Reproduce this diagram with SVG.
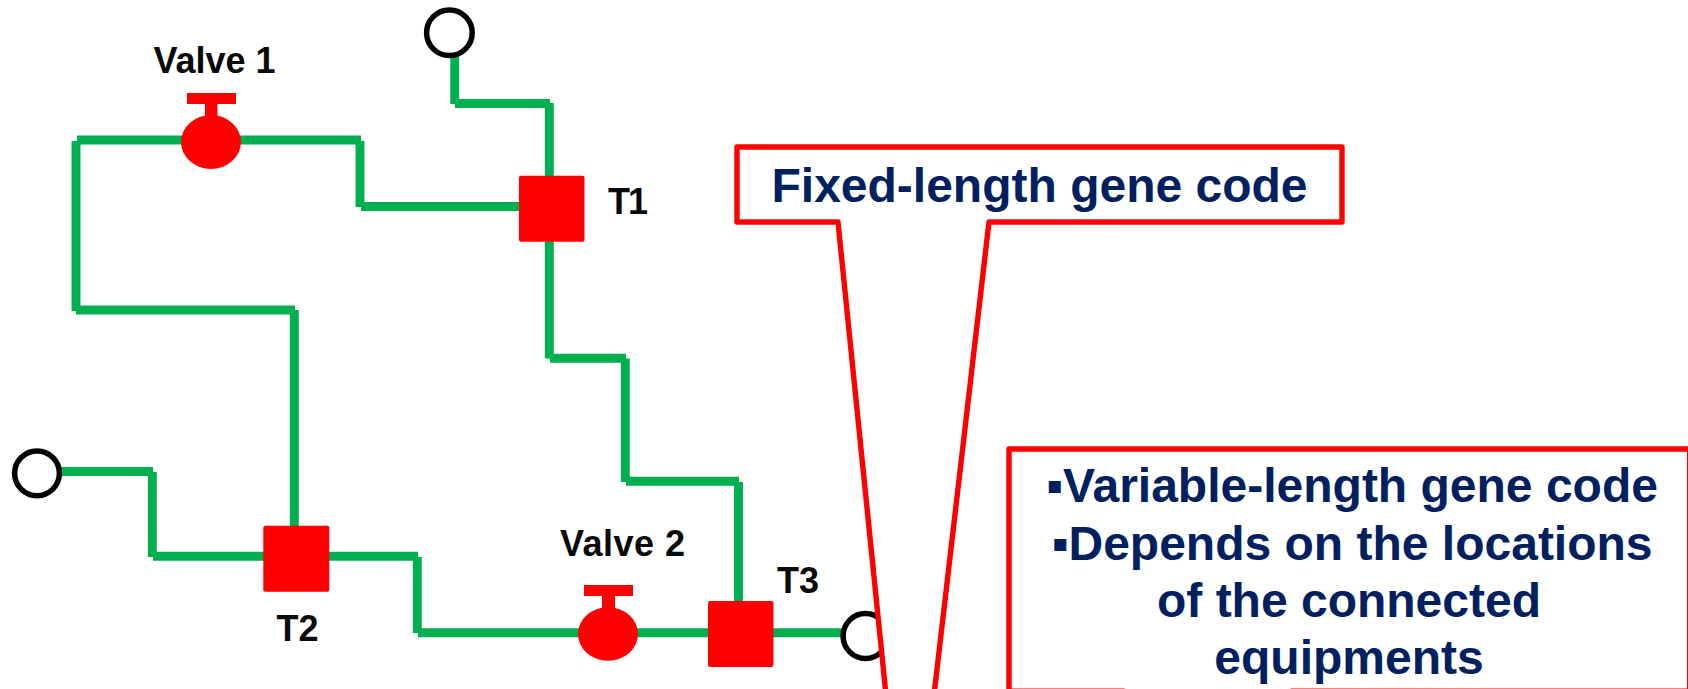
<svg xmlns="http://www.w3.org/2000/svg" width="1688" height="689" viewBox="0 0 1688 689">
<style>
.pipe{stroke:#00B050;stroke-width:8.9;fill:none}
.red{fill:#f00}
.port{fill:#fff;stroke:#000;stroke-width:5.5}
.lbl{font-family:"Liberation Sans",Arial,sans-serif;font-weight:700;font-size:36px;fill:#0a0a0a}
.call{fill:#fff;stroke:#f00;stroke-width:5.4;stroke-linejoin:round}
.ct{font-family:"Liberation Sans",Arial,"Noto Sans CJK JP",sans-serif;font-weight:700;font-size:48px;fill:#002060;text-anchor:middle}
</style>
<rect width="1688" height="689" fill="#fff"/>
<g id="connectors">
<path class="pipe" d="M76 141V311M77 140H361M360 141V207M361 206.5H520"/>
<path class="pipe" d="M76 310H295M294.3 310V527"/>
<path class="pipe" d="M454.7 55V104M455 103.5H550M549.3 103V177"/>
<path class="pipe" d="M549.3 241V358.5M550 358.3H626M625.3 358.5V482M626 481.3H739M738.5 482V602"/>
<path class="pipe" d="M60 471.5H153M152.3 472V557M153 556.3H264M329 556.3H418M417.3 557V633M418 632.7H845"/>
</g>
<g id="port-top"><circle class="port" cx="449.4" cy="32.7" r="22.8"/></g>
<g id="port-left"><circle class="port" cx="37" cy="473.3" r="22.4"/></g>
<g id="port-right"><circle class="port" cx="865.5" cy="636" r="22.4"/></g>
<g id="valve-1"><rect class="red" x="187" y="93" width="49" height="11"/><rect class="red" x="205" y="103" width="12.5" height="14"/><ellipse class="red" cx="211" cy="142" rx="30" ry="27"/><text class="lbl" x="153.5" y="72.5">Valve 1</text></g>
<g id="valve-2"><rect class="red" x="584" y="585" width="49" height="11"/><rect class="red" x="602" y="595" width="13" height="14"/><ellipse class="red" cx="608" cy="634" rx="30" ry="26.7"/><text class="lbl" x="560" y="555.5" textLength="125">Valve 2</text></g>
<g id="t1"><rect class="red" x="519" y="175.7" width="65.5" height="66" rx="2"/><text class="lbl" x="608" y="213.5" textLength="40">T1</text></g>
<g id="t2"><rect class="red" x="263.3" y="525.7" width="66" height="66" rx="2"/><text class="lbl" x="276.5" y="640.5">T2</text></g>
<g id="t3"><rect class="red" x="708" y="601" width="65.5" height="66" rx="2"/><text class="lbl" x="777" y="592.5">T3</text></g>
<g id="callout-fixed"><path class="call" d="M737 147H1342V222H989L934 695H886L838 222H737Z"/><text class="ct" x="1039.5" y="202">Fixed-length gene code</text></g>
<g id="callout-variable"><path class="call" d="M1009 449H1689.7V691.2H1291.5L1280 705H1130L1124 691.2H1009Z"/>
<text class="ct" x="1352" y="502">▪Variable-length gene code</text>
<text class="ct" x="1352" y="559.8">▪Depends on the locations</text>
<text class="ct" x="1349" y="617">of the connected</text>
<text class="ct" x="1349" y="674">equipments</text></g>
</svg>
